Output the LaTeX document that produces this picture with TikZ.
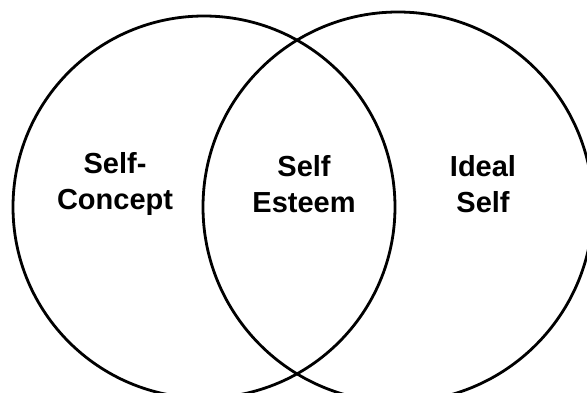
\documentclass[tikz,border=0pt]{standalone}
\usepackage{fontspec}
\setmainfont{Liberation Sans}
\begin{document}
\begin{tikzpicture}[x=1pt,y=-1pt,
  ring/.style={draw=black,line width=2.8pt},
  lbl/.style={align=center,font=\fontsize{29}{36}\selectfont\bfseries,inner sep=0pt}]
\useasboundingbox (0,0) rectangle (587,393);
\clip (0,0) rectangle (587,393);
\fill[white] (0,0) rectangle (587,393);
\draw[ring] (204,207) circle[radius=191];
\draw[ring] (398,207) circle[radius=195];
\node[lbl] (sc) at (115,184) {Self-\\Concept};
\node[lbl] (se) at (304,184) {Self\\Esteem};
\node[lbl] (is) at (483,184) {Ideal\\Self};
\end{tikzpicture}
\end{document}
